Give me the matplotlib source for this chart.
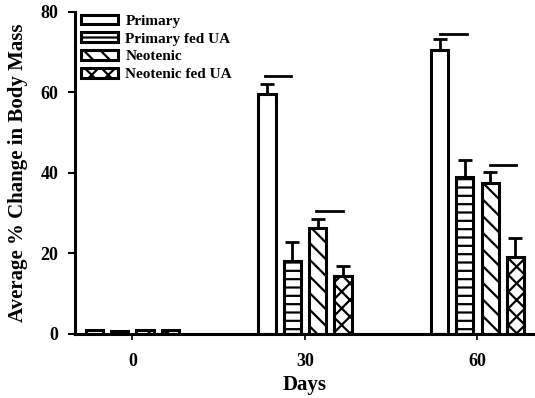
import matplotlib
matplotlib.use("Agg")
import matplotlib.pyplot as plt
import numpy as np

days = [0, 30, 60]
series = ["Primary", "Primary fed UA", "Neotenic", "Neotenic fed UA"]
primary = [1.0, 59.6, 70.6]
primary_err = [0.0, 2.4, 2.6]
primary_ua = [0.8, 18.1, 39.1]
primary_ua_err = [0.0, 4.8, 4.1]
neotenic = [1.0, 26.3, 37.4]
neotenic_err = [0.0, 2.3, 2.9]
neotenic_ua = [1.0, 14.4, 19.2]
neotenic_ua_err = [0.0, 2.5, 4.7]
# significance bars: (x start, x end, y)
sig_lines = [(23.0, 27.6, 64.0), (32.0, 36.7, 30.6), (53.4, 58.1, 74.5), (62.1, 66.7, 42.0)]

values = [primary, primary_ua, neotenic, neotenic_ua]
errors = [primary_err, primary_ua_err, neotenic_err, neotenic_ua_err]
hatches = ["", "--", "\\\\", "xx"]
offsets = [-6.6, -2.2, 2.2, 6.6]
width = 3.0

plt.rcParams["font.family"] = ["Liberation Serif", "DejaVu Serif"]
plt.rcParams["font.weight"] = "bold"
plt.rcParams["hatch.linewidth"] = 1.6

fig = plt.figure(figsize=(5.35, 3.98), dpi=100)
ax = fig.add_axes([0.14, 0.161, 0.86, 0.809])

x = np.array(days, dtype=float)
for name, vals, errs, h, off in zip(series, values, errors, hatches, offsets):
    ax.bar(x + off, vals, width=width, facecolor="white", edgecolor="black",
           linewidth=2.2, hatch=h, label=name, zorder=2)
    e = np.array(errs)
    mask = e > 0
    ax.errorbar((x + off)[mask], np.array(vals)[mask],
                yerr=[np.zeros(mask.sum()), e[mask]], fmt="none",
                ecolor="black", elinewidth=2.0, capsize=5, capthick=2.0, zorder=3)

for x0, x1, y in sig_lines:
    ax.plot([x0, x1], [y, y], color="black", lw=2.0)

ax.set_xlim(-10, 70)
ax.set_ylim(0, 80)
ax.set_xticks(days)
ax.set_yticks([0, 20, 40, 60, 80])
ax.spines["top"].set_visible(False)
ax.spines["right"].set_visible(False)
ax.spines["left"].set_linewidth(2.2)
ax.spines["bottom"].set_linewidth(2.2)
ax.tick_params(axis="y", direction="out", length=5, width=1.5, labelsize=13, pad=7)
ax.tick_params(axis="x", direction="out", length=4, width=1.2, labelsize=13, pad=10)
for lab in ax.get_xticklabels() + ax.get_yticklabels():
    lab.set_fontweight("bold")

ax.set_ylabel("Average % Change in Body Mass", fontsize=15, fontweight="bold", labelpad=9)
ax.set_xlabel("Days", fontsize=15, fontweight="bold", labelpad=3)

leg = ax.legend(loc="upper left", bbox_to_anchor=(0.0, 1.011), frameon=False,
                fontsize=11, handlelength=2.4, handleheight=0.6,
                labelspacing=0.3, handletextpad=0.5, borderaxespad=0.0)
for t in leg.get_texts():
    t.set_fontweight("bold")

fig.savefig("out.png", dpi=100)
